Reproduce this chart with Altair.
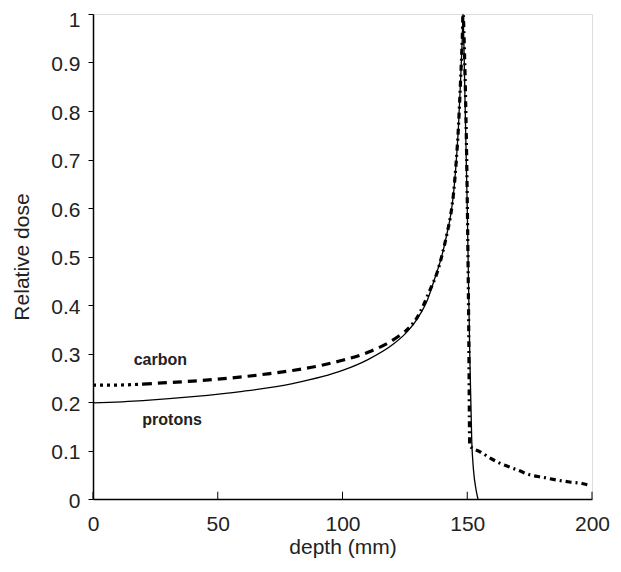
import altair as alt
import pandas as pd

# Proton depth-dose curve
p_depth = [0, 20, 40, 60, 80, 100, 110, 120, 125, 130, 134, 137, 140, 142, 143.5,
           144.5, 145.5, 146.5, 147.3, 148, 148.3, 149, 150, 151, 151.8, 152.5, 153.5, 154.3]
p_dose = [0.198, 0.203, 0.211, 0.222, 0.238, 0.265, 0.287, 0.318, 0.340, 0.372, 0.41, 0.455,
          0.505, 0.55, 0.59, 0.63, 0.69, 0.77, 0.86, 0.95, 1.0, 0.85, 0.6, 0.3, 0.12, 0.06, 0.02, 0.0]

# Carbon depth-dose curve
c_depth = [0, 10, 20, 30, 40, 50, 60, 70, 80, 90, 100, 110, 120, 125, 130, 135, 138, 140,
           142, 143.5, 144.5, 145.5, 146.5, 147.3, 148, 148.3, 149, 150, 150.6, 151, 152, 154,
           156, 158, 160, 163, 167, 171, 175, 180, 185, 191, 196, 199]
c_dose = [0.235, 0.235, 0.237, 0.240, 0.243, 0.247, 0.252, 0.258, 0.265, 0.274, 0.286, 0.302,
          0.327, 0.345, 0.375, 0.43, 0.468, 0.505, 0.55, 0.59, 0.63, 0.69, 0.77, 0.86, 0.95, 1.0,
          0.9, 0.62, 0.35, 0.11, 0.105, 0.1, 0.095, 0.088, 0.082, 0.074, 0.066, 0.058, 0.05,
          0.045, 0.04, 0.035, 0.032, 0.028]
# dash segment boundaries for the carbon curve
c_break1 = 20
c_break2 = 125

x_ticks = [0, 50, 100, 150, 200]
y_ticks = [0, 0.1, 0.2, 0.3, 0.4, 0.5, 0.6, 0.7, 0.8, 0.9, 1]

label_text = ["carbon", "protons"]
label_x = [27, 31.7]
label_y = [0.287, 0.163]

FONT = "Liberation Sans"

prot = pd.DataFrame({"depth": p_depth, "dose": p_dose})

rows = []
for d, v in zip(c_depth, c_dose):
    if d <= c_break1:
        rows.append((d, v, "a"))
    if c_break1 <= d <= c_break2:
        rows.append((d, v, "b"))
    if d >= c_break2:
        rows.append((d, v, "c"))
carb = pd.DataFrame(rows, columns=["depth", "dose", "seg"])

xs = alt.Scale(domain=[0, 200], nice=False)
ys = alt.Scale(domain=[0, 1], nice=False)

xaxis = alt.Axis(values=x_ticks, title="depth (mm)", ticks=False, grid=False,
                 labelFont=FONT, labelFontSize=21, labelColor="#222", labelPadding=14,
                 labelFlush=False,
                 titleFont=FONT, titleFontSize=21, titleFontWeight="normal", titleColor="#222",
                 titlePadding=2, domainColor="black", domainWidth=1.5)
yaxis = alt.Axis(values=y_ticks, title="Relative dose", grid=False, tickSize=5, format="~g",
                 tickColor="black", labelFont=FONT, labelFontSize=21, labelColor="#222",
                 labelPadding=8, labelFlush=False,
                 labelOffset={"condition": {"test": "datum.value >= 1", "value": 6}, "value": 2},
                 titleFont=FONT, titleFontSize=21, titleFontWeight="normal", titleColor="#222",
                 titlePadding=18, domainColor="black", domainWidth=1.5)

proton_line = alt.Chart(prot).mark_line(color="black", strokeWidth=1.3,
                                        interpolate="monotone").encode(
    x=alt.X("depth:Q", scale=xs, axis=xaxis),
    y=alt.Y("dose:Q", scale=ys, axis=yaxis),
)

carbon_line = alt.Chart(carb).mark_line(color="black", strokeWidth=3.2,
                                        interpolate="monotone").encode(
    x=alt.X("depth:Q", scale=xs),
    y=alt.Y("dose:Q", scale=ys),
    detail="seg:N",
    strokeDash=alt.StrokeDash("seg:N", legend=None,
                              scale=alt.Scale(domain=["a", "b", "c"],
                                              range=[[3, 4], [9, 6], [6, 4, 2, 4]])),
)

tick_df = pd.DataFrame({"depth": x_ticks, "y0": [0] * 5, "y1": [0.015] * 5})
xticks_layer = alt.Chart(tick_df).mark_rule(color="black", strokeWidth=1).encode(
    x=alt.X("depth:Q", scale=xs), y=alt.Y("y0:Q", scale=ys), y2="y1:Q")

lab = pd.DataFrame({"t": label_text, "x": label_x, "y": label_y})
labels = alt.Chart(lab).mark_text(font=FONT, fontSize=16, fontWeight="bold", color="#222").encode(
    x=alt.X("x:Q", scale=xs), y=alt.Y("y:Q", scale=ys), text="t:N")

chart = alt.layer(proton_line, carbon_line, xticks_layer, labels).properties(
    width=499, height=485,
    autosize=alt.AutoSizeParams(type="none"),
    padding={"left": 85, "top": 6, "right": 21, "bottom": 65},
).configure_view(stroke="black", strokeWidth=1.5).configure(background="white")

chart.save("out.html", embed_options={"renderer": "svg", "actions": False})
